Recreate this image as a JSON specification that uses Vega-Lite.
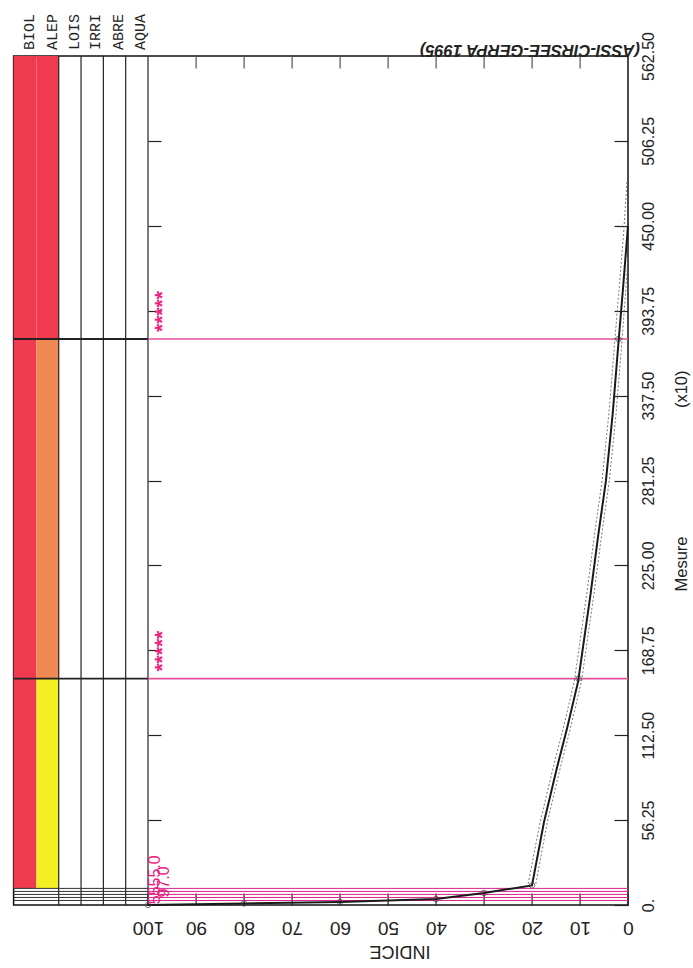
{
  "$schema": "https://vega.github.io/schema/vega-lite/v6.json",
  "width": 614.4,
  "height": 849,
  "autosize": {"type": "none"},
  "padding": {"left": 13.6, "top": 56, "right": 65, "bottom": 63},
  "background": "white",
  "config": {
    "view": {"stroke": "#111", "strokeWidth": 1.5},
    "axis": {"grid": false, "domain": false, "tickColor": "#222", "tickWidth": 1.2, "labelColor": "#222", "titleColor": "#222", "labelFont": "Liberation Sans", "titleFont": "Liberation Sans", "titleFontWeight": "normal", "labelOverlap": false, "labelFlush": false}
  },
  "datasets": {
    "bands": [
      {"col": "BIOL", "i1": 123.25, "i2": 128, "m1": 11, "m2": 562.5, "classe": "rouge"},
      {"col": "ALEP", "i1": 118.6, "i2": 123.25, "m1": 11, "m2": 150, "classe": "jaune"},
      {"col": "ALEP", "i1": 118.6, "i2": 123.25, "m1": 150, "m2": 375, "classe": "orange"},
      {"col": "ALEP", "i1": 118.6, "i2": 123.25, "m1": 375, "m2": 562.5, "classe": "rouge"}
    ],
    "colrules": [{"indice": 100}, {"indice": 104.65}, {"indice": 109.3}, {"indice": 113.95}, {"indice": 118.6}],
    "mainthr": [{"mesure": 150}, {"mesure": 375}],
    "lowthr": [{"mesure": 3}, {"mesure": 5}, {"mesure": 7}, {"mesure": 9}, {"mesure": 11}],
    "curve": [
      {"indice": 100, "mesure": 0},
      {"indice": 80, "mesure": 1},
      {"indice": 60, "mesure": 2},
      {"indice": 40, "mesure": 4},
      {"indice": 30, "mesure": 8},
      {"indice": 20, "mesure": 13},
      {"indice": 17.5, "mesure": 55},
      {"indice": 14.8, "mesure": 91},
      {"indice": 12.7, "mesure": 117},
      {"indice": 10.4, "mesure": 148},
      {"indice": 9.5, "mesure": 168},
      {"indice": 7.8, "mesure": 206},
      {"indice": 6.2, "mesure": 245},
      {"indice": 4.6, "mesure": 281},
      {"indice": 3.2, "mesure": 325},
      {"indice": 2.0, "mesure": 372},
      {"indice": 1.0, "mesure": 410},
      {"indice": 0, "mesure": 450}
    ],
    "bounds": [
      {"serie": "sup", "indice": 20.8, "mesure": 14},
      {"serie": "sup", "indice": 18.3, "mesure": 55},
      {"serie": "sup", "indice": 15.6, "mesure": 91},
      {"serie": "sup", "indice": 13.5, "mesure": 117},
      {"serie": "sup", "indice": 11.2, "mesure": 148},
      {"serie": "sup", "indice": 10.3, "mesure": 168},
      {"serie": "sup", "indice": 8.6, "mesure": 206},
      {"serie": "sup", "indice": 7.0, "mesure": 245},
      {"serie": "sup", "indice": 5.4, "mesure": 281},
      {"serie": "sup", "indice": 4.0, "mesure": 325},
      {"serie": "sup", "indice": 2.8, "mesure": 372},
      {"serie": "sup", "indice": 1.8, "mesure": 410},
      {"serie": "sup", "indice": 0.8, "mesure": 450},
      {"serie": "sup", "indice": 0.2, "mesure": 480},
      {"serie": "inf", "indice": 19.2, "mesure": 14},
      {"serie": "inf", "indice": 16.8, "mesure": 55},
      {"serie": "inf", "indice": 14.1, "mesure": 91},
      {"serie": "inf", "indice": 12.0, "mesure": 117},
      {"serie": "inf", "indice": 9.7, "mesure": 148},
      {"serie": "inf", "indice": 8.8, "mesure": 168},
      {"serie": "inf", "indice": 7.1, "mesure": 206},
      {"serie": "inf", "indice": 5.5, "mesure": 245},
      {"serie": "inf", "indice": 3.9, "mesure": 281},
      {"serie": "inf", "indice": 2.5, "mesure": 325},
      {"serie": "inf", "indice": 1.3, "mesure": 372},
      {"serie": "inf", "indice": 0.4, "mesure": 410},
      {"serie": "inf", "indice": 0, "mesure": 430}
    ],
    "markers": [
      {"indice": 100, "mesure": 0},
      {"indice": 80, "mesure": 1},
      {"indice": 60, "mesure": 2},
      {"indice": 40, "mesure": 4},
      {"indice": 30, "mesure": 8},
      {"indice": 20, "mesure": 13},
      {"indice": 10.3, "mesure": 150},
      {"indice": 2.0, "mesure": 375}
    ],
    "collabels": [
      {"label": "BIOL", "indice": 124.8},
      {"label": "ALEP", "indice": 120.0},
      {"label": "LOIS", "indice": 115.5},
      {"label": "IRRI", "indice": 111.0},
      {"label": "ABRE", "indice": 106.3},
      {"label": "AQUA", "indice": 101.6}
    ],
    "stars": [{"txt": "*****", "mesure": 150}, {"txt": "*****", "mesure": 375}],
    "lowlabels": [{"txt": "5555.0", "indice": 98.6, "mesure": 0.5}, {"txt": "97.0", "indice": 96.6, "mesure": 5}],
    "source": [{"txt": "(ASSI-CIRSEE-GERPA 1995)"}]
  },
  "resolve": {"axis": {"x": "independent", "y": "independent"}},
  "layer": [
    {
      "data": {"name": "bands"},
      "mark": {"type": "rect"},
      "encoding": {
        "x": {"field": "i1", "type": "quantitative", "scale": {"domain": [0, 128], "reverse": true, "nice": false, "zero": false}, "axis": null},
        "x2": {"field": "i2"},
        "y": {"field": "m1", "type": "quantitative", "scale": {"domain": [0, 562.5], "nice": false}, "axis": null},
        "y2": {"field": "m2"},
        "color": {"field": "classe", "type": "nominal", "scale": {"domain": ["rouge", "orange", "jaune"], "range": ["#ef3a50", "#f08a52", "#f3ef22"]}, "legend": null}
      }
    },
    {
      "data": {"name": "colrules"},
      "mark": {"type": "rule", "color": "#222", "strokeWidth": 1.2},
      "encoding": {
        "x": {"field": "indice", "type": "quantitative", "axis": null}
      }
    },
    {
      "data": {"name": "mainthr"},
      "mark": {"type": "rule", "color": "#222", "strokeWidth": 1.8},
      "encoding": {
        "x": {"datum": 100, "type": "quantitative", "axis": null},
        "x2": {"datum": 128},
        "y": {"field": "mesure", "type": "quantitative", "axis": null}
      }
    },
    {
      "data": {"name": "lowthr"},
      "mark": {"type": "rule", "color": "#333", "strokeWidth": 1},
      "encoding": {
        "x": {"datum": 100, "type": "quantitative", "axis": null},
        "x2": {"datum": 128},
        "y": {"field": "mesure", "type": "quantitative", "axis": null}
      }
    },
    {
      "data": {"name": "mainthr"},
      "mark": {"type": "rule", "color": "#e2519b", "strokeWidth": 1.6},
      "encoding": {
        "x": {"datum": 0, "type": "quantitative", "axis": null},
        "x2": {"datum": 100},
        "y": {"field": "mesure", "type": "quantitative", "axis": null}
      }
    },
    {
      "data": {"name": "lowthr"},
      "mark": {"type": "rule", "color": "#d6238c", "strokeWidth": 1},
      "encoding": {
        "x": {"datum": 0, "type": "quantitative", "axis": null},
        "x2": {"datum": 100},
        "y": {"field": "mesure", "type": "quantitative", "axis": null}
      }
    },
    {
      "data": {"name": "bounds"},
      "mark": {"type": "line", "color": "#666", "strokeWidth": 0.9, "strokeDash": [2, 2]},
      "encoding": {
        "x": {"field": "indice", "type": "quantitative", "axis": null},
        "y": {"field": "mesure", "type": "quantitative", "axis": null},
        "detail": {"field": "serie"},
        "order": {"field": "mesure"}
      }
    },
    {
      "data": {"name": "curve"},
      "mark": {"type": "line", "color": "#1a1a1a", "strokeWidth": 2},
      "encoding": {
        "x": {
          "field": "indice", "type": "quantitative",
          "axis": {
            "orient": "bottom", "values": [0, 10, 20, 30, 40, 50, 60, 70, 80, 90, 100],
            "title": "INDICE", "labelAngle": 180, "labelAlign": "center", "labelBaseline": "middle",
            "labelFontSize": 19, "tickSize": -12, "labelPadding": 34,
            "titleAngle": 180, "titleFontSize": 18, "titleAlign": "center", "titleBaseline": "middle",
            "titleX": 386, "titleY": 45
          }
        },
        "y": {
          "field": "mesure", "type": "quantitative",
          "axis": {
            "orient": "right", "values": [0, 56.25, 112.5, 168.75, 225, 281.25, 337.5, 393.75, 450, 506.25, 562.5],
            "labelExpr": "datum.value == 0 ? '0.' : format(datum.value, '.2f')",
            "labelAngle": -90, "labelAlign": "center", "labelBaseline": "middle",
            "labelFontSize": 16, "tickSize": -14, "labelPadding": 34,
            "title": "Mesure\u00a0\u00a0\u00a0\u00a0\u00a0\u00a0\u00a0\u00a0\u00a0\u00a0\u00a0\u00a0\u00a0\u00a0\u00a0\u00a0\u00a0\u00a0\u00a0\u00a0\u00a0\u00a0\u00a0\u00a0\u00a0\u00a0\u00a0\u00a0(x10)",
            "titleAngle": -90, "titleFontSize": 16.5, "titleAlign": "center", "titleBaseline": "middle",
            "titleX": 53, "titleY": 424.5
          }
        },
        "order": {"field": "mesure"}
      }
    },
    {
      "data": {"name": "markers"},
      "mark": {"type": "point", "shape": "circle", "filled": false, "size": 30, "color": "#444", "strokeWidth": 1},
      "encoding": {
        "x": {
          "field": "indice", "type": "quantitative",
          "axis": {"orient": "top", "values": [10, 20, 30, 40, 50, 60, 70, 80, 90], "labels": false, "tickSize": -12, "tickColor": "#555", "title": null, "zindex": 1}
        },
        "y": {
          "field": "mesure", "type": "quantitative",
          "axis": {"orient": "left", "offset": -134.4, "values": [56.25, 112.5, 168.75, 225, 281.25, 337.5, 393.75, 450, 506.25], "labels": false, "tickSize": -13, "title": null}
        }
      }
    },
    {
      "data": {"name": "collabels"},
      "mark": {"type": "text", "angle": -90, "align": "left", "baseline": "middle", "dx": 6, "font": "Liberation Mono", "fontSize": 15, "color": "#222"},
      "encoding": {
        "x": {"field": "indice", "type": "quantitative", "axis": null},
        "y": {"datum": 562.5, "type": "quantitative", "axis": null},
        "text": {"field": "label"}
      }
    },
    {
      "data": {"name": "stars"},
      "mark": {"type": "text", "angle": -90, "align": "left", "baseline": "middle", "dx": 7, "dy": 3, "font": "Liberation Sans", "fontSize": 21, "fontWeight": "bold", "color": "#f0207f"},
      "encoding": {
        "x": {"datum": 97.4, "type": "quantitative", "axis": null},
        "y": {"field": "mesure", "type": "quantitative", "axis": null},
        "text": {"field": "txt"}
      }
    },
    {
      "data": {"name": "lowlabels"},
      "mark": {"type": "text", "angle": -90, "align": "left", "baseline": "middle", "font": "Liberation Sans", "fontSize": 16, "color": "#f0207f"},
      "encoding": {
        "x": {"field": "indice", "type": "quantitative", "axis": null},
        "y": {"field": "mesure", "type": "quantitative", "axis": null},
        "text": {"field": "txt"}
      }
    },
    {
      "data": {"name": "source"},
      "mark": {"type": "text", "angle": 180, "align": "left", "baseline": "top", "dx": -12, "dy": -2, "font": "Liberation Sans", "fontSize": 16.5, "fontStyle": "italic", "fontWeight": "bold", "color": "#222"},
      "encoding": {
        "x": {"datum": 0, "type": "quantitative", "axis": null},
        "y": {"datum": 562.5, "type": "quantitative", "axis": null},
        "text": {"field": "txt"}
      }
    }
  ]
}
